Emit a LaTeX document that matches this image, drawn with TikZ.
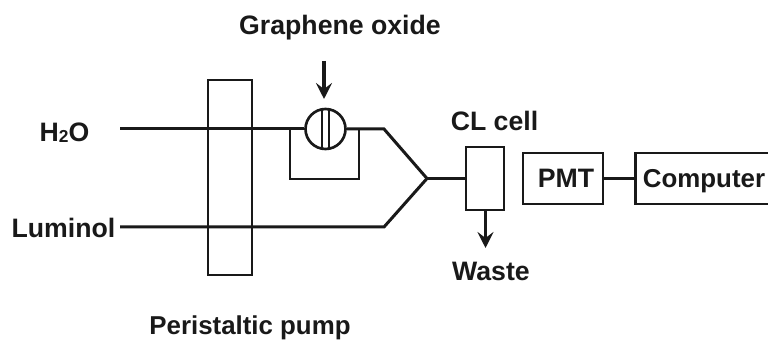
\documentclass[tikz,border=0pt]{standalone}
\usepackage{fontspec}
\setmainfont{Liberation Sans}
\usetikzlibrary{arrows.meta}
\tikzset{
  lbl/.style={font=\fontsize{20}{22}\selectfont\bfseries, inner sep=0pt, text=black!90},
  lbls/.style={font=\fontsize{19.4}{22}\selectfont\bfseries, inner sep=0pt, text=black!90},
  pipe/.style={line width=2.25pt, black!90},
  thin box/.style={draw=black!90, line width=2pt, inner sep=0pt, fill=none},
  flow/.style={line width=2.4pt, black!90, -{Stealth[length=12pt,width=12pt,inset=4.5pt]}}
}
\begin{document}
\begin{tikzpicture}[x=0.75pt,y=-0.75pt]
\useasboundingbox (0,0) rectangle (768,341);
\clip (0,0) rectangle (768,341);
\fill[white] (0,0) rectangle (768,341);
% free ends and junctions
\coordinate (h2oin) at (120,129);
\coordinate (lumin) at (120,227);
\coordinate (bendA) at (384,129);
\coordinate (bendB) at (384,227);
\coordinate (join) at (427,178.5);
\coordinate (loopL) at (290,129);
\coordinate (loopR) at (359,129);
\coordinate (loopLb) at (290,179);
\coordinate (loopRb) at (359,179);
\coordinate (goin) at (324,61);
\coordinate (goout) at (324,99);
\coordinate (wasteout) at (485.5,248);
% nodes
\node[thin box, minimum width=33pt, minimum height=146.25pt] (pump) at (230,177.5) {};
\node[thin box, circle, minimum size=30pt, fill=white] (valve) at (325.5,129) {};
\node[thin box, minimum width=28.5pt, minimum height=47.25pt] (cell) at (485,178.5) {};
\node[thin box, minimum width=60pt, minimum height=38.25pt] (pmt) at (563,178.5) {};
\node[thin box, minimum width=112.5pt, minimum height=38.25pt, anchor=west] (comp) at (634,178.5) {};
% connectors
\draw[pipe] (h2oin) -- (loopL) -- (valve.west);
\draw[pipe] (valve.east) -- (bendA) -- (join);
\draw[pipe] (lumin) -- (bendB) -- (join);
\draw[pipe] (join) -- (cell.west);
\draw[thin box] (loopL) -- (loopLb) -- (loopRb) -- (loopR);
\draw[thin box] (pmt.east) -- (comp.west);
\draw[flow] (goin) -- (goout);
\draw[flow] (cell.south -| wasteout) -- (wasteout);
\draw[thin box] (322,110) -- (322,148) (329,110) -- (329,148);
% labels
\node[lbl] (lgo) at (340,28) {Graphene oxide};
\node[lbl] (lh2o) at (64.5,133) {H\raisebox{-0.5pt}{\fontsize{13}{14}\selectfont 2}O};
\node[lbl] (llum) at (63.5,227.5) {Luminol};
\node[lbls] (lpp) at (250,328) {Peristaltic pump};
\node[lbl] (lcl) at (494.5,120.5) {CL cell};
\node[lbl] (lwaste) at (491,271.5) {Waste};
\node[lbl] (lpmt) at (566,178.5) {PMT};
\node[lbls] (lcomp) at (704,181) {Computer};
\end{tikzpicture}
\end{document}
